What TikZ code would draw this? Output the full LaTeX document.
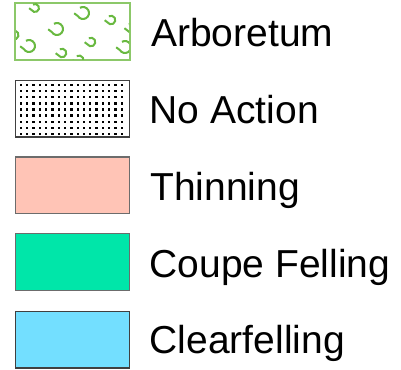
\documentclass[tikz,border=0pt]{standalone}
\usepackage{fontspec}
\setmainfont{Liberation Sans}
\definecolor{arbline}{RGB}{140,200,105}
\definecolor{arbmark}{RGB}{105,185,65}
\definecolor{thin}{RGB}{255,196,182}
\definecolor{coupe}{RGB}{0,230,169}
\definecolor{clear}{RGB}{115,223,255}
\tikzset{
  legbox/.style={line width=1.4pt, minimum width=114pt, minimum height=56.6pt, inner sep=0pt, anchor=north west},
  legtext/.style={anchor=base west, inner sep=0pt, font=\fontsize{39}{39}\selectfont},
  curl/.style={draw=arbmark, line width=2pt},
}
\begin{document}
\begin{tikzpicture}[x=1pt,y=-1pt]
\useasboundingbox (0,0) rectangle (401,369);
% Arboretum
\node[legbox, draw=arbline, fill=white] (b1) at (15,2.7) {};
\begin{scope}
\clip (15,2.7) rectangle (129,59.3);
\foreach \x/\y/\r in {35/8/4, 83/13/6, 111/20/4.3, 57/29/6, 14/35/4.5, 29/46/6, 91/42/4.3, 125/47/6, 131/28/4.5, 62/53/4.3, 79/60/4.5}{
  \draw[curl] ([shift={(-120:\r)}]\x,\y) arc[start angle=-120, end angle=150, radius=\r] -- ++(-0.6*\r,-0.45*\r);
}
\end{scope}
\draw[legbox, draw=arbline] (b1.north west) rectangle (b1.south east);
% No Action
\node[legbox, draw=black!75, fill=white] (b2) at (15,79.5) {};
\foreach \i in {0,...,16}{
  \foreach \j in {0,...,8}{
    \fill (20.9+\i*6.3-1.1,85+\j*6.1-1.1) rectangle ++(2.3,2.3);
  }
}
% Thinning
\node[legbox, draw=gray!85!black, fill=thin] (b3) at (15,156.3) {};
% Coupe Felling
\node[legbox, draw=gray!85!black, fill=coupe] (b4) at (15,233) {};
% Clearfelling
\node[legbox, draw=black!75, fill=clear] (b5) at (15,310.7) {};
\node[legtext] (t1) at (151,47) {Arboretum};
\node[legtext] (t2) at (149.5,123.7) {No Action};
\node[legtext] (t3) at (150,200.3) {Thinning};
\node[legtext] (t4) at (149.5,277) {Coupe Felling};
\node[legtext] (t5) at (149.5,353.7) {Clearfelling};
\end{tikzpicture}
\end{document}
